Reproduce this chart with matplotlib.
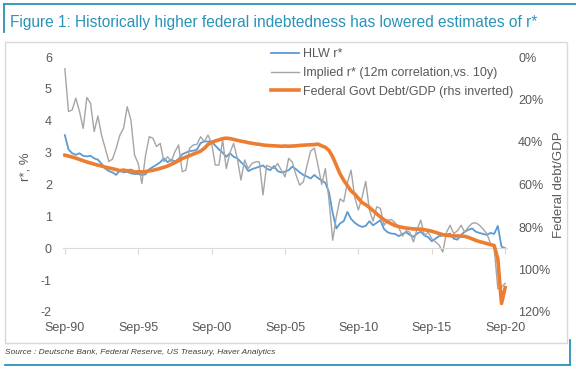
import numpy as np
import pandas as pd
import matplotlib
matplotlib.use("Agg")
import matplotlib.pyplot as plt
from matplotlib.lines import Line2D
from matplotlib.patches import Rectangle

plt.rcParams['font.family'] = ['Liberation Sans', 'DejaVu Sans']
plt.rcParams['axes.unicode_minus'] = False

# quarterly, Sep-90 .. Sep-20
quarters = pd.period_range('1990Q3', '2020Q3', freq='Q')

hlw_rstar = [
    3.55, 3.1, 2.98, 2.93, 2.98, 2.9, 2.88, 2.9, 2.82, 2.78,
    2.65, 2.5, 2.42, 2.38, 2.3, 2.45, 2.38, 2.4, 2.35, 2.33,
    2.33, 2.3, 2.32, 2.48, 2.55, 2.62, 2.7, 2.82, 2.7, 2.78,
    2.72, 2.8, 2.95, 3.0, 3.05, 3.06, 3.1, 3.3, 3.35, 3.35,
    3.35, 3.22, 3.1, 3.0, 2.87, 2.98, 2.87, 2.82, 2.7, 2.6,
    2.42, 2.48, 2.52, 2.56, 2.6, 2.5, 2.45, 2.58, 2.42, 2.38,
    2.4, 2.45, 2.56, 2.48, 2.38, 2.3, 2.25, 2.19, 2.3, 2.2,
    2.13, 2.05, 1.75, 1.1, 0.62, 0.78, 0.85, 1.14, 0.92, 0.8,
    0.72, 0.67, 0.7, 0.85, 0.72, 0.8, 0.88, 0.6, 0.5, 0.46,
    0.45, 0.38, 0.45, 0.5, 0.42, 0.36, 0.46, 0.52, 0.4, 0.35,
    0.22, 0.3, 0.38, 0.4, 0.42, 0.46, 0.3, 0.27, 0.42, 0.52,
    0.58, 0.62, 0.52, 0.48, 0.45, 0.42, 0.48, 0.45, 0.7, 0.05,
    0.0,
]

implied_rstar = [
    5.63, 4.29, 4.34, 4.71, 4.29, 3.76, 4.73, 4.55, 3.66, 4.15,
    3.55, 3.14, 2.72, 2.8, 3.14, 3.55, 3.76, 4.44, 4.03, 2.92,
    2.66, 2.03, 2.92, 3.5, 3.45, 3.19, 3.29, 2.72, 2.87, 2.72,
    3.03, 3.24, 2.4, 2.45, 3.14, 3.24, 3.26, 3.5, 3.34, 3.55,
    3.3, 2.61, 2.61, 3.4, 2.5, 3.0, 3.29, 2.82, 2.14, 2.77,
    2.5, 2.66, 2.71, 2.71, 1.67, 2.6, 2.55, 2.5, 2.66, 2.45,
    2.24, 2.82, 2.7, 2.3, 1.98, 2.08, 2.6, 3.05, 3.14, 2.6,
    2.0, 2.5, 1.5, 0.25, 1.0, 1.55, 1.46, 2.05, 2.45, 1.6,
    1.2, 1.6, 2.1, 1.2, 0.85, 1.3, 1.25, 0.72, 0.88, 0.9,
    0.8, 0.65, 0.38, 0.55, 0.5, 0.2, 0.6, 0.88, 0.4, 0.5,
    0.3, 0.2, 0.1, -0.12, 0.5, 0.72, 0.46, 0.55, 0.72, 0.5,
    0.67, 0.78, 0.8, 0.72, 0.6, 0.46, 0.15, 0.02, -1.27, -1.22,
    -1.1,
]

debt_gdp = [
    46.2, 46.6,
    47.1, 47.6, 48.2, 48.8,
    49.4, 49.9, 50.4, 50.9,
    51.3, 51.8, 52.2, 52.6,
    53.0, 53.5, 53.2, 53.6,
    53.4, 54.2, 54.0, 54.1,
    53.9, 53.6, 53.3, 52.9,
    52.4, 51.9, 51.3, 50.5,
    49.7, 48.8, 47.8, 47.1,
    46.4, 45.7, 45.0, 44.3,
    43.0, 41.2, 40.2, 39.5,
    39.0, 38.4, 38.2, 38.4,
    38.8, 39.2, 39.6, 39.9,
    40.3, 40.6, 40.9, 41.1,
    41.4, 41.6, 41.7, 41.8,
    41.9, 42.0, 41.9, 42.0,
    41.9, 41.8, 41.6, 41.5,
    41.4, 41.3, 41.2, 41.0,
    41.8, 42.5, 44.0, 47.0,
    51.0, 55.0, 58.0, 60.5,
    63.0, 64.5, 66.5, 68.5,
    69.5, 70.8, 72.3, 73.8,
    75.3, 76.6, 77.6, 78.5,
    79.3, 79.8, 80.2, 80.5,
    80.7, 80.9, 81.0, 81.0,
    81.3, 81.6, 82.0, 82.5,
    83.1, 83.6, 83.9, 84.1,
    84.2, 84.2, 84.3, 84.4,
    84.9, 85.6, 86.3, 86.9,
    87.3, 87.8, 88.3, 88.7,
    95.0, 116.0, 108.5,
]

tick_labels = ['Sep-90', 'Sep-95', 'Sep-00', 'Sep-05', 'Sep-10', 'Sep-15', 'Sep-20']
left_ticks = [-2, -1, 0, 1, 2, 3, 4, 5, 6]
right_ticks = [0, 20, 40, 60, 80, 100, 120]

teal = '#2a93b8'
txt = '#595959'
W, H = 576, 371

x = np.arange(len(quarters))
labels_all = [q.strftime('%b-%y') for q in quarters.asfreq('M', 'end')]
tick_pos = [labels_all.index(t) for t in tick_labels]

fig = plt.figure(figsize=(W / 100, H / 100), dpi=100)

# frame decorations
fig.add_artist(Line2D([4 / W, 1], [1 - 4 / H, 1 - 4 / H], color=teal, lw=1.3))
fig.add_artist(Line2D([4 / W, 4 / W], [1 - 4 / H, 1 - 32 / H], color=teal, lw=1.3))
fig.add_artist(Line2D([5 / W, 570 / W], [1 - 365 / H, 1 - 365 / H], color=teal, lw=1.3))
fig.add_artist(Line2D([570 / W, 570 / W], [1 - 340 / H, 1 - 365 / H], color=teal, lw=1.3))
fig.add_artist(Rectangle((5 / W, 1 - 343 / H), 562 / W, 301 / H, fill=False,
                         ec='#d9d9d9', lw=1, transform=fig.transFigure))

fig.text(10 / W, 1 - 22 / H,
         'Figure 1: Historically higher federal indebtedness has lowered estimates of r*',
         color=teal, fontsize=11.2, va='center', ha='left')
fig.text(5 / W, 1 - 353 / H,
         'Source : Deutsche Bank, Federal Reserve, US Treasury, Haver Analytics',
         color='#404040', fontsize=6, style='italic', va='center', ha='left')

ax = fig.add_axes([63 / W, 1 - 312 / H, 444 / W, 255 / H])
ax.patch.set_visible(False)
l1, = ax.plot(x, hlw_rstar, color='#5b9bd5', lw=1.3, label='HLW r*')
l2, = ax.plot(x, implied_rstar, color='#a5a5a5', lw=1.0,
              label='Implied r* (12m correlation,vs. 10y)')
ax.set_xlim(-0.5, len(x) - 0.5)
ax.set_ylim(-2, 6)
ax.set_yticks(left_ticks)
for s in ['top', 'left', 'right']:
    ax.spines[s].set_visible(False)
ax.spines['bottom'].set_position(('data', 0))
ax.spines['bottom'].set_color('#d9d9d9')
ax.set_xticks(tick_pos)
ax.tick_params(axis='x', length=4, color='#d9d9d9', labelbottom=False)
ax.tick_params(axis='y', length=0, pad=8, labelsize=9, labelcolor=txt)
ax.set_ylabel('r*, %', fontsize=9.5, color=txt)
ax.yaxis.set_label_coords(-0.07, 0.57)

sec = ax.secondary_xaxis('bottom')
sec.set_xticks(tick_pos, tick_labels)
sec.spines['bottom'].set_visible(False)
sec.tick_params(length=0, pad=7, labelsize=9, labelcolor=txt)

ax2 = ax.twinx()
l3, = ax2.plot(x, debt_gdp, color='#ed7d31', lw=2.6,
               label='Federal Govt Debt/GDP (rhs inverted)')
ax2.set_ylim(120, 0)
ax2.set_yticks(right_ticks, [f'{v}%' for v in right_ticks])
for s in ax2.spines.values():
    s.set_visible(False)
ax2.tick_params(axis='y', length=0, pad=8, labelsize=9, labelcolor=txt)
ax2.set_ylabel('Federal debt/GDP', fontsize=9.5, color=txt)
ax2.yaxis.set_label_coords(1.104, 0.5)

ax2.legend(handles=[l1, l2, l3], loc='upper left',
           bbox_to_anchor=(271 / W, 1 - 48 / H), bbox_transform=fig.transFigure,
           frameon=False, fontsize=9, handlelength=2.2, handletextpad=0.35,
           labelspacing=0.55, borderpad=0, borderaxespad=0, labelcolor=txt)

fig.savefig('out.png', dpi=100)
